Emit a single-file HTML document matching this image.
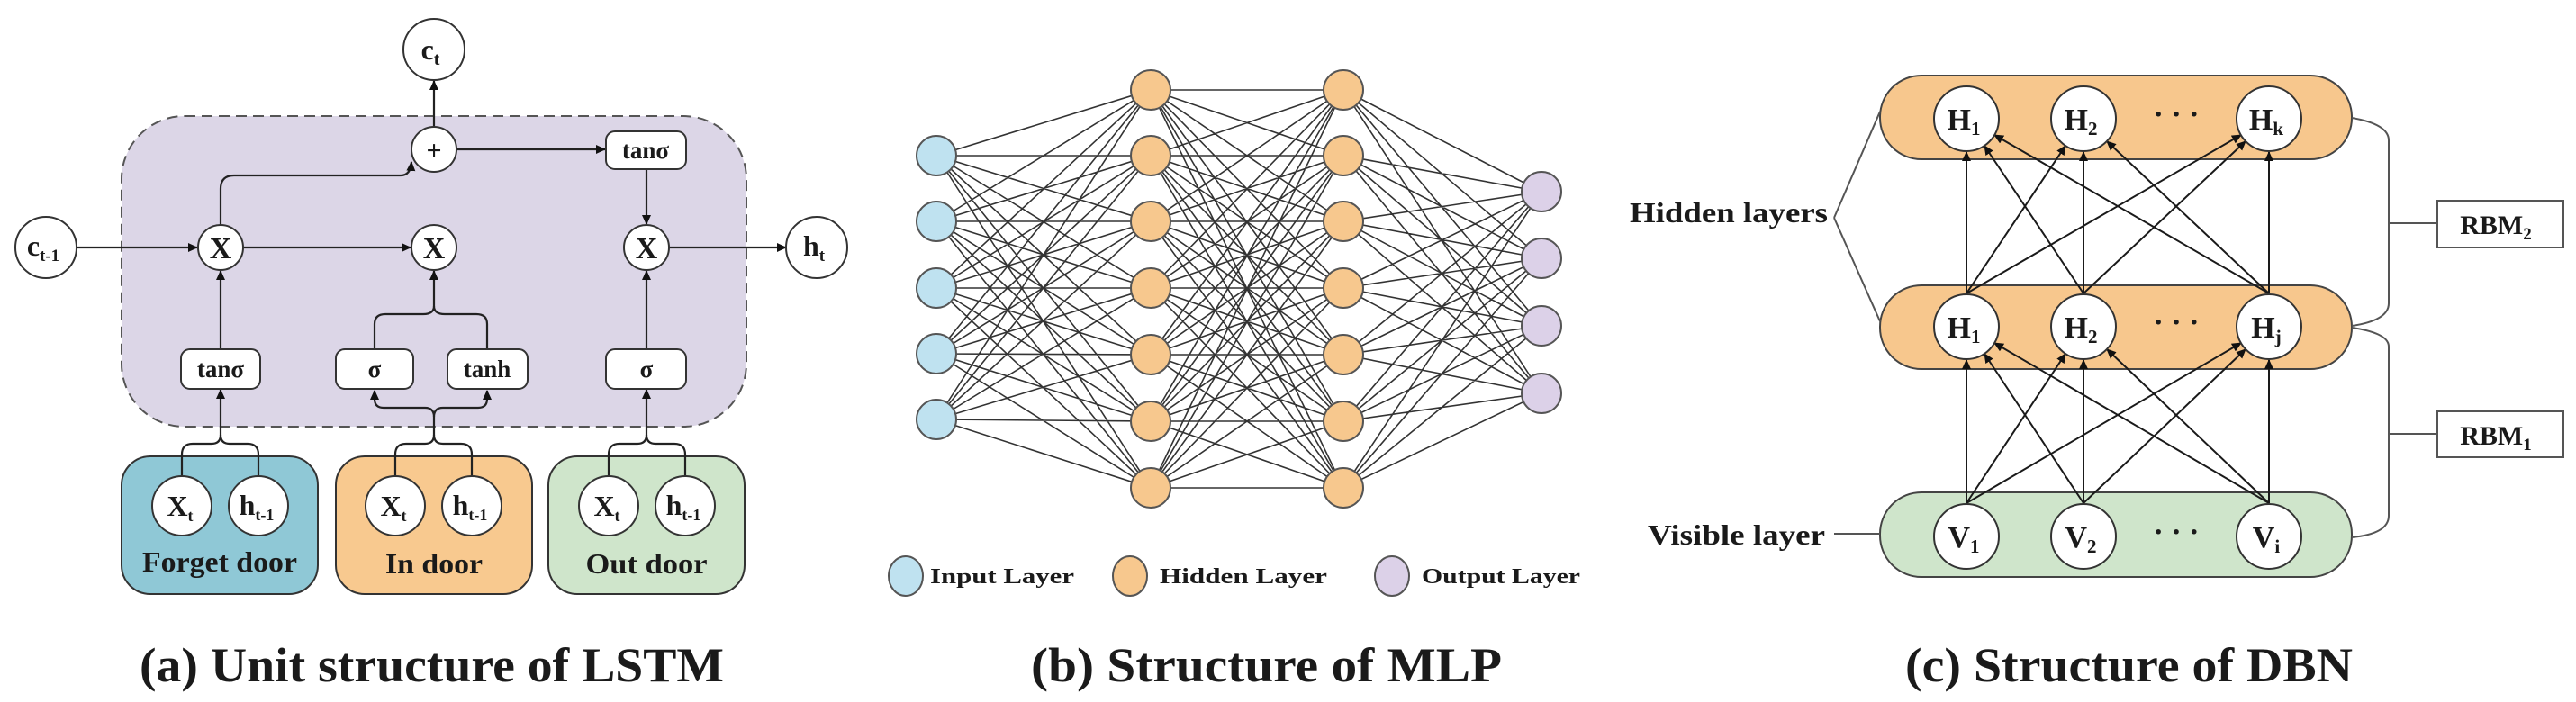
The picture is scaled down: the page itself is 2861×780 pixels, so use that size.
<!DOCTYPE html>
<html><head><meta charset="utf-8"><style>
html,body{margin:0;padding:0;background:#fff}
svg{display:block}
text{font-family:"Liberation Serif",serif;font-weight:bold;fill:#1a1a1a}
</style></head><body>
<svg width="2861" height="780" viewBox="0 0 2861 780" xmlns="http://www.w3.org/2000/svg">
<defs>
<marker id="a" markerUnits="userSpaceOnUse" markerWidth="11" markerHeight="10" refX="10" refY="5" orient="auto"><path d="M0,0L11,5L0,10z" fill="#111"/></marker>
</defs>

<!-- ================= LSTM ================= -->
<rect x="135" y="129" width="694" height="345" rx="70" fill="#dcd6e7" stroke="#555" stroke-width="2" stroke-dasharray="12,7"/>
<g stroke="#222" stroke-width="2.2" fill="none">
<!-- c_t -->
<line x1="482" y1="141" x2="482" y2="90" marker-end="url(#a)"/>
<line x1="507" y1="166" x2="672" y2="166" marker-end="url(#a)"/>
<line x1="718" y1="188" x2="718" y2="249" marker-end="url(#a)"/>
<line x1="85" y1="275" x2="219" y2="275" marker-end="url(#a)"/>
<line x1="270" y1="275" x2="456" y2="275" marker-end="url(#a)"/>
<line x1="743" y1="275" x2="873" y2="275" marker-end="url(#a)"/>
<path d="M245,250 V210 Q245,195 260,195 H445 Q456,195 457,180" marker-end="url(#a)"/>
<line x1="245" y1="388" x2="245" y2="301" marker-end="url(#a)"/>
<line x1="718" y1="388" x2="718" y2="301" marker-end="url(#a)"/>
<path d="M416,388 V360 Q416,349 428,349 H470 Q482,349 482,340"/>
<path d="M541,388 V360 Q541,349 529,349 H494 Q482,349 482,340"/>
<line x1="482" y1="340" x2="482" y2="301" marker-end="url(#a)"/>
<!-- gate connectors -->
<path d="M202,529 V505 Q202,493 214,493 H235 Q245,493 245,483"/>
<path d="M287,529 V505 Q287,493 275,493 H255 Q245,493 245,483"/>
<line x1="245" y1="483" x2="245" y2="433" marker-end="url(#a)"/>
<path d="M439,529 V505 Q439,493 451,493 H472 Q482,493 482,483"/>
<path d="M524,529 V505 Q524,493 512,493 H492 Q482,493 482,483"/>
<path d="M482,483 V463 Q482,453 472,453 H426 Q416,453 416,443 V434" marker-end="url(#a)"/>
<path d="M482,463 Q482,453 492,453 H531 Q541,453 541,443 V434" marker-end="url(#a)"/>
<path d="M676,529 V505 Q676,493 688,493 H708 Q718,493 718,483"/>
<path d="M761,529 V505 Q761,493 749,493 H728 Q718,493 718,483"/>
<line x1="718" y1="483" x2="718" y2="433" marker-end="url(#a)"/>
</g>
<g stroke="#333" stroke-width="2" fill="#fff">
<circle cx="482" cy="55" r="34"/>
<circle cx="482" cy="166" r="25"/>
<circle cx="245" cy="275" r="25"/>
<circle cx="482" cy="275" r="25"/>
<circle cx="718" cy="275" r="25"/>
<circle cx="51" cy="275" r="34"/>
<circle cx="907" cy="275" r="34"/>
<rect x="673" y="146" width="89" height="42" rx="10"/>
<rect x="201" y="388" width="88" height="44" rx="10"/>
<rect x="373" y="388" width="86" height="44" rx="10"/>
<rect x="497" y="388" width="89" height="44" rx="10"/>
<rect x="673" y="388" width="89" height="44" rx="10"/>
</g>
<g stroke="#333" stroke-width="2">
<rect x="135" y="507" width="218" height="153" rx="32" fill="#8fc8d6"/>
<rect x="373" y="507" width="218" height="153" rx="32" fill="#f8c98f"/>
<rect x="609" y="507" width="218" height="153" rx="32" fill="#cfe5cb"/>
</g>
<g stroke="#222" stroke-width="2.2">
<line x1="202" y1="505" x2="202" y2="530"/><line x1="287" y1="505" x2="287" y2="530"/>
<line x1="439" y1="505" x2="439" y2="530"/><line x1="524" y1="505" x2="524" y2="530"/>
<line x1="676" y1="505" x2="676" y2="530"/><line x1="761" y1="505" x2="761" y2="530"/>
</g>
<g stroke="#333" stroke-width="2" fill="#fff">
<circle cx="202" cy="562" r="33"/><circle cx="287" cy="562" r="33"/>
<circle cx="439" cy="562" r="33"/><circle cx="524" cy="562" r="33"/>
<circle cx="676" cy="562" r="33"/><circle cx="761" cy="562" r="33"/>
</g>
<g font-size="32" text-anchor="middle">
<text x="478" y="66">c<tspan font-size="20" dy="6">t</tspan></text>
<text x="482" y="177" font-weight="normal" font-size="30">+</text>
<text x="245" y="287" font-size="34">X</text>
<text x="482" y="287" font-size="34">X</text>
<text x="718" y="287" font-size="34">X</text>
<text x="48" y="284">c<tspan font-size="19" dy="6">t-1</tspan></text>
<text x="904" y="284">h<tspan font-size="19" dy="6">t</tspan></text>
<text x="717" y="176" font-size="27">tanσ</text>
<text x="245" y="419" font-size="27">tanσ</text>
<text x="416" y="419" font-size="27">σ</text>
<text x="541" y="419" font-size="27">tanh</text>
<text x="718" y="419" font-size="27">σ</text>
<text x="200" y="573">X<tspan font-size="18" dy="6">t</tspan></text>
<text x="285" y="572">h<tspan font-size="18" dy="6">t-1</tspan></text>
<text x="437" y="573">X<tspan font-size="18" dy="6">t</tspan></text>
<text x="522" y="572">h<tspan font-size="18" dy="6">t-1</tspan></text>
<text x="674" y="573">X<tspan font-size="18" dy="6">t</tspan></text>
<text x="759" y="572">h<tspan font-size="18" dy="6">t-1</tspan></text>
<text x="244" y="635" textLength="172" lengthAdjust="spacingAndGlyphs">Forget door</text>
<text x="482" y="637" textLength="108" lengthAdjust="spacingAndGlyphs">In door</text>
<text x="718" y="637" textLength="135" lengthAdjust="spacingAndGlyphs">Out door</text>
</g>
<text x="155" y="757" font-size="54" textLength="649" lengthAdjust="spacingAndGlyphs">(a) Unit structure of LSTM</text>

<!-- ================= MLP ================= -->
<path stroke="#333" stroke-width="1.6" fill="none" d="
M1040 173L1278 100M1040 173L1278 173M1040 173L1278 246M1040 173L1278 320M1040 173L1278 394M1040 173L1278 468M1040 173L1278 542
M1040 246L1278 100M1040 246L1278 173M1040 246L1278 246M1040 246L1278 320M1040 246L1278 394M1040 246L1278 468M1040 246L1278 542
M1040 320L1278 100M1040 320L1278 173M1040 320L1278 246M1040 320L1278 320M1040 320L1278 394M1040 320L1278 468M1040 320L1278 542
M1040 393L1278 100M1040 393L1278 173M1040 393L1278 246M1040 393L1278 320M1040 393L1278 394M1040 393L1278 468M1040 393L1278 542
M1040 466L1278 100M1040 466L1278 173M1040 466L1278 246M1040 466L1278 320M1040 466L1278 394M1040 466L1278 468M1040 466L1278 542
M1278 100L1492 100M1278 100L1492 173M1278 100L1492 246M1278 100L1492 320M1278 100L1492 394M1278 100L1492 468M1278 100L1492 542
M1278 173L1492 100M1278 173L1492 173M1278 173L1492 246M1278 173L1492 320M1278 173L1492 394M1278 173L1492 468M1278 173L1492 542
M1278 246L1492 100M1278 246L1492 173M1278 246L1492 246M1278 246L1492 320M1278 246L1492 394M1278 246L1492 468M1278 246L1492 542
M1278 320L1492 100M1278 320L1492 173M1278 320L1492 246M1278 320L1492 320M1278 320L1492 394M1278 320L1492 468M1278 320L1492 542
M1278 394L1492 100M1278 394L1492 173M1278 394L1492 246M1278 394L1492 320M1278 394L1492 394M1278 394L1492 468M1278 394L1492 542
M1278 468L1492 100M1278 468L1492 173M1278 468L1492 246M1278 468L1492 320M1278 468L1492 394M1278 468L1492 468M1278 468L1492 542
M1278 542L1492 100M1278 542L1492 173M1278 542L1492 246M1278 542L1492 320M1278 542L1492 394M1278 542L1492 468M1278 542L1492 542
M1492 100L1712 213M1492 100L1712 287M1492 100L1712 362M1492 100L1712 437
M1492 173L1712 213M1492 173L1712 287M1492 173L1712 362M1492 173L1712 437
M1492 246L1712 213M1492 246L1712 287M1492 246L1712 362M1492 246L1712 437
M1492 320L1712 213M1492 320L1712 287M1492 320L1712 362M1492 320L1712 437
M1492 394L1712 213M1492 394L1712 287M1492 394L1712 362M1492 394L1712 437
M1492 468L1712 213M1492 468L1712 287M1492 468L1712 362M1492 468L1712 437
M1492 542L1712 213M1492 542L1712 287M1492 542L1712 362M1492 542L1712 437"/>
<g stroke="#555" stroke-width="2">
<g fill="#bfe2f0">
<circle cx="1040" cy="173" r="22"/><circle cx="1040" cy="246" r="22"/><circle cx="1040" cy="320" r="22"/><circle cx="1040" cy="393" r="22"/><circle cx="1040" cy="466" r="22"/>
<ellipse cx="1006" cy="640" rx="19" ry="22"/>
</g>
<g fill="#f7c88e">
<circle cx="1278" cy="100" r="22"/><circle cx="1278" cy="173" r="22"/><circle cx="1278" cy="246" r="22"/><circle cx="1278" cy="320" r="22"/><circle cx="1278" cy="394" r="22"/><circle cx="1278" cy="468" r="22"/><circle cx="1278" cy="542" r="22"/>
<circle cx="1492" cy="100" r="22"/><circle cx="1492" cy="173" r="22"/><circle cx="1492" cy="246" r="22"/><circle cx="1492" cy="320" r="22"/><circle cx="1492" cy="394" r="22"/><circle cx="1492" cy="468" r="22"/><circle cx="1492" cy="542" r="22"/>
<ellipse cx="1255" cy="640" rx="19" ry="22"/>
</g>
<g fill="#dcd1e8">
<circle cx="1712" cy="213" r="22"/><circle cx="1712" cy="287" r="22"/><circle cx="1712" cy="362" r="22"/><circle cx="1712" cy="437" r="22"/>
<ellipse cx="1546" cy="640" rx="19" ry="22"/>
</g>
</g>
<g font-size="24">
<text x="1033" y="648" textLength="160" lengthAdjust="spacingAndGlyphs">Input Layer</text>
<text x="1288" y="648" textLength="186" lengthAdjust="spacingAndGlyphs">Hidden Layer</text>
<text x="1579" y="648" textLength="176" lengthAdjust="spacingAndGlyphs">Output Layer</text>
</g>
<text x="1145" y="757" font-size="54" textLength="523" lengthAdjust="spacingAndGlyphs">(b) Structure of MLP</text>

<!-- ================= DBN ================= -->
<g stroke="#444" stroke-width="2">
<rect x="2088" y="84" width="524" height="93" rx="46" fill="#f7c78d"/>
<rect x="2088" y="317" width="524" height="93" rx="46" fill="#f7c78d"/>
<rect x="2088" y="547" width="524" height="94" rx="46" fill="#cfe5cb"/>
</g>
<g stroke="#555" stroke-width="2" fill="none">
<path d="M2037,242 L2088,124 M2037,242 L2088,357 M2037,593 H2088"/>
<path d="M2612,131 Q2653,138 2653,156 V337 Q2653,356 2612,362"/>
<path d="M2612,364 Q2653,370 2653,385 V573 Q2653,593 2612,597"/>
<path d="M2653,248 H2707 M2653,482 H2707"/>
<rect x="2707" y="223" width="140" height="52" fill="#fff"/>
<rect x="2707" y="457" width="140" height="51" fill="#fff"/>
</g>
<g stroke="#1a1a1a" stroke-width="2" marker-end="url(#a)">
<!-- V to middle H (start y 559, H center y 363) -->
<line x1="2184" y1="559" x2="2184" y2="400"/>
<line x1="2184" y1="559" x2="2294" y2="393"/>
<line x1="2184" y1="559" x2="2489" y2="381"/>
<line x1="2314" y1="559" x2="2204" y2="393"/>
<line x1="2314" y1="559" x2="2314" y2="400"/>
<line x1="2314" y1="559" x2="2494" y2="388"/>
<line x1="2520" y1="559" x2="2215" y2="381"/>
<line x1="2520" y1="559" x2="2340" y2="388"/>
<line x1="2520" y1="559" x2="2520" y2="400"/>
<!-- middle H to top H (start y 326, top center 132) -->
<line x1="2184" y1="326" x2="2184" y2="169"/>
<line x1="2184" y1="326" x2="2294" y2="162"/>
<line x1="2184" y1="326" x2="2489" y2="150"/>
<line x1="2314" y1="326" x2="2204" y2="162"/>
<line x1="2314" y1="326" x2="2314" y2="169"/>
<line x1="2314" y1="326" x2="2494" y2="157"/>
<line x1="2520" y1="326" x2="2215" y2="150"/>
<line x1="2520" y1="326" x2="2340" y2="157"/>
<line x1="2520" y1="326" x2="2520" y2="169"/>
</g>
<g stroke="#333" stroke-width="2" fill="#fff">
<circle cx="2184" cy="132" r="36"/><circle cx="2314" cy="132" r="36"/><circle cx="2520" cy="132" r="36"/>
<circle cx="2184" cy="363" r="36"/><circle cx="2314" cy="363" r="36"/><circle cx="2520" cy="363" r="36"/>
<circle cx="2184" cy="596" r="36"/><circle cx="2314" cy="596" r="36"/><circle cx="2520" cy="596" r="36"/>
</g>
<g font-size="34" text-anchor="middle">
<text x="2181" y="144">H<tspan font-size="21" dy="6">1</tspan></text>
<text x="2311" y="144">H<tspan font-size="21" dy="6">2</tspan></text>
<text x="2517" y="144">H<tspan font-size="21" dy="6">k</tspan></text>
<text x="2181" y="375">H<tspan font-size="21" dy="6">1</tspan></text>
<text x="2311" y="375">H<tspan font-size="21" dy="6">2</tspan></text>
<text x="2517" y="375">H<tspan font-size="21" dy="6">j</tspan></text>
<text x="2181" y="608">V<tspan font-size="21" dy="6">1</tspan></text>
<text x="2311" y="608">V<tspan font-size="21" dy="6">2</tspan></text>
<text x="2517" y="608">V<tspan font-size="21" dy="6">i</tspan></text>
<text x="2417" y="138">· · ·</text>
<text x="2417" y="369">· · ·</text>
<text x="2417" y="602">· · ·</text>
<text x="2772" y="260" font-size="30">RBM<tspan font-size="19" dy="6">2</tspan></text>
<text x="2772" y="494" font-size="30">RBM<tspan font-size="19" dy="6">1</tspan></text>
</g>
<g font-size="32">
<text x="1810" y="247" textLength="220" lengthAdjust="spacingAndGlyphs">Hidden layers</text>
<text x="1830" y="605" textLength="197" lengthAdjust="spacingAndGlyphs">Visible layer</text>
</g>
<text x="2116" y="757" font-size="54" textLength="497" lengthAdjust="spacingAndGlyphs">(c) Structure of DBN</text>
</svg>
</body></html>
